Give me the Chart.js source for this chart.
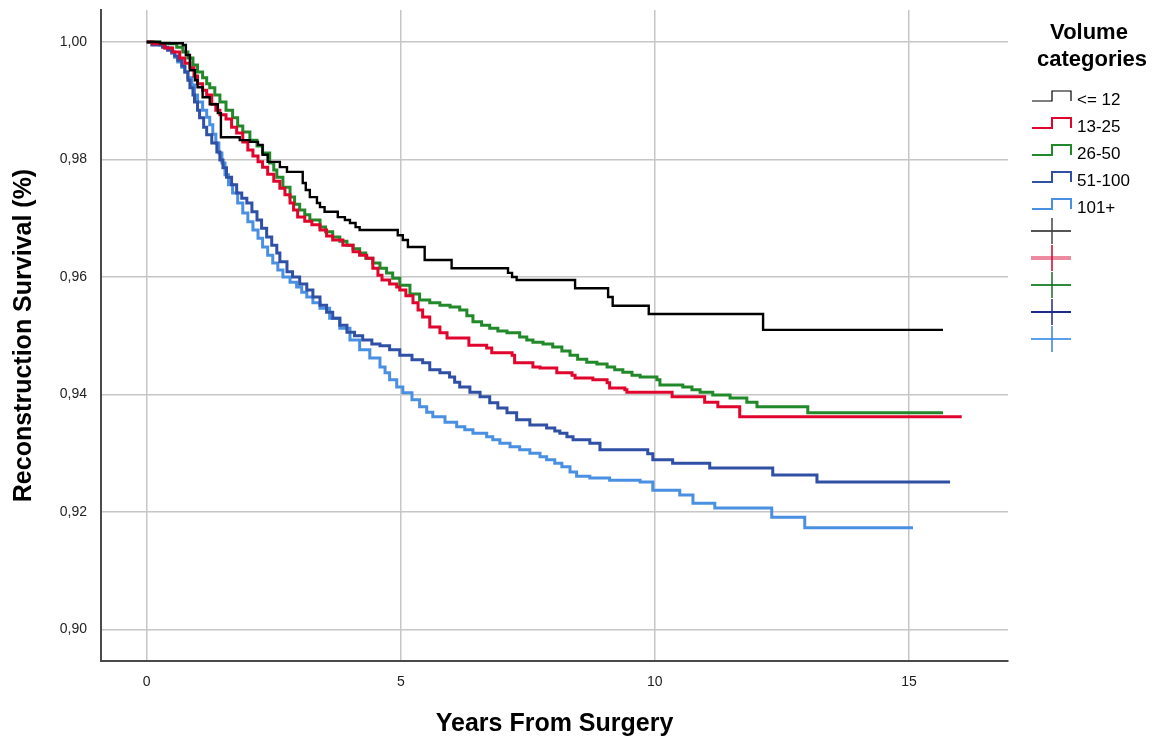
<!DOCTYPE html>
<html><head><meta charset="utf-8">
<script src="https://cdn.jsdelivr.net/npm/chart.js@4/dist/chart.umd.min.js"></script>
<style>html,body{margin:0;padding:0;background:#fff}#wrap{width:1156px;height:741px;position:relative}</style>
</head><body><div id="wrap"><canvas id="c" width="1156" height="741"></canvas></div>
<script>
const xTicks = [0, 5, 10, 15];
const yTicks = [0.90, 0.92, 0.94, 0.96, 0.98, 1.00];
const categories = ['<= 12', '13-25', '26-50', '51-100', '101+'];
const colors = ['#000000', '#e1052e', '#22892a', '#3050a6', '#4a90e2'];

const le12T = [0,0.26,0.71,0.77,0.85,0.95,1.00,1.10,1.24,1.40,1.46,1.83,2.03,2.19,2.28,2.38,2.62,2.76,3.07,3.13,3.21,3.35,3.41,3.50,3.76,3.90,4.00,4.11,4.19,4.94,5.04,5.14,5.47,6.00,7.11,7.19,7.28,8.43,9.08,9.17,9.88,12.13,15.67];
const le12S = [1.0000,0.9998,0.9995,0.9978,0.9952,0.9935,0.9923,0.9906,0.9894,0.9879,0.9838,0.9833,0.9830,0.9825,0.9808,0.9796,0.9787,0.9779,0.9760,0.9748,0.9736,0.9726,0.9719,0.9711,0.9702,0.9697,0.9692,0.9685,0.9680,0.9671,0.9663,0.9651,0.9629,0.9615,0.9607,0.9600,0.9595,0.9581,0.9566,0.9551,0.9537,0.9510,0.9510];

const v13T = [0,0.12,0.35,0.51,0.65,0.75,0.85,0.93,1.00,1.10,1.18,1.28,1.36,1.44,1.56,1.67,1.77,1.89,1.99,2.09,2.19,2.28,2.38,2.50,2.62,2.72,2.82,2.89,2.97,3.11,3.25,3.41,3.54,3.66,3.86,4.06,4.19,4.33,4.45,4.55,4.63,4.78,4.92,4.98,5.10,5.24,5.34,5.43,5.57,5.77,5.91,6.34,6.69,6.79,7.19,7.24,7.60,7.74,8.07,8.37,8.43,8.78,9.06,9.11,9.41,9.45,10.34,10.98,11.24,11.67,16.04];
const v13S = [1.0000,0.9997,0.9990,0.9983,0.9973,0.9964,0.9956,0.9942,0.9929,0.9918,0.9910,0.9894,0.9884,0.9876,0.9869,0.9855,0.9845,0.9830,0.9816,0.9806,0.9796,0.9787,0.9775,0.9763,0.9751,0.9740,0.9726,0.9714,0.9702,0.9695,0.9689,0.9680,0.9670,0.9663,0.9654,0.9643,0.9637,0.9632,0.9615,0.9603,0.9595,0.9588,0.9583,0.9578,0.9568,0.9556,0.9544,0.9532,0.9515,0.9505,0.9496,0.9484,0.9479,0.9471,0.9467,0.9454,0.9447,0.9445,0.9437,0.9433,0.9428,0.9425,0.9420,0.9411,0.9408,0.9404,0.9396,0.9387,0.9379,0.9362,0.9362];

const v26T = [0,0.26,0.45,0.59,0.71,0.81,0.91,1.00,1.10,1.18,1.24,1.34,1.44,1.56,1.69,1.79,1.89,2.03,2.17,2.28,2.42,2.50,2.56,2.68,2.82,2.91,3.01,3.11,3.21,3.41,3.52,3.66,3.80,3.94,4.06,4.19,4.31,4.45,4.59,4.72,4.84,4.98,5.18,5.37,5.57,5.77,5.97,6.16,6.30,6.42,6.59,6.75,6.91,7.09,7.34,7.48,7.60,7.80,7.99,8.17,8.33,8.48,8.66,8.86,9.06,9.21,9.37,9.55,9.71,10.04,10.10,10.55,10.73,10.89,11.14,11.48,11.81,12.01,13.01,15.67];
const v26S = [1.0000,0.9998,0.9997,0.9991,0.9983,0.9973,0.9961,0.9949,0.9939,0.9929,0.9922,0.9910,0.9898,0.9884,0.9871,0.9857,0.9847,0.9833,0.9823,0.9811,0.9794,0.9782,0.9770,0.9753,0.9736,0.9724,0.9714,0.9706,0.9697,0.9685,0.9677,0.9668,0.9661,0.9654,0.9648,0.9641,0.9632,0.9624,0.9615,0.9607,0.9598,0.9586,0.9571,0.9561,0.9556,0.9552,0.9549,0.9544,0.9534,0.9524,0.9518,0.9513,0.9508,0.9505,0.9498,0.9493,0.9489,0.9486,0.9481,0.9474,0.9467,0.9460,0.9455,0.9452,0.9447,0.9442,0.9438,0.9433,0.9430,0.9425,0.9416,0.9413,0.9408,0.9404,0.9399,0.9394,0.9387,0.9379,0.9369,0.9369];

const v51T = [0,0.10,0.31,0.41,0.49,0.55,0.61,0.69,0.75,0.81,0.85,0.91,0.94,1.00,1.04,1.12,1.18,1.28,1.38,1.44,1.50,1.57,1.67,1.77,1.87,1.97,2.07,2.17,2.26,2.36,2.46,2.56,2.62,2.76,2.87,3.01,3.15,3.27,3.41,3.54,3.66,3.80,3.94,4.09,4.25,4.43,4.59,4.78,4.98,5.22,5.43,5.57,5.77,5.96,6.06,6.16,6.36,6.56,6.75,6.91,7.09,7.28,7.54,7.87,8.03,8.13,8.27,8.39,8.72,8.92,9.86,9.96,10.35,11.08,12.32,13.19,15.81];
const v51S = [1.0000,0.9995,0.9991,0.9986,0.9983,0.9976,0.9969,0.9959,0.9949,0.9935,0.9922,0.9910,0.9898,0.9884,0.9871,0.9855,0.9842,0.9828,0.9813,0.9799,0.9786,0.9770,0.9757,0.9743,0.9734,0.9726,0.9711,0.9697,0.9683,0.9668,0.9654,0.9641,0.9626,0.9609,0.9600,0.9588,0.9578,0.9566,0.9552,0.9540,0.9530,0.9518,0.9506,0.9500,0.9493,0.9486,0.9483,0.9476,0.9467,0.9459,0.9454,0.9442,0.9437,0.9430,0.9421,0.9413,0.9404,0.9396,0.9386,0.9377,0.9369,0.9357,0.9348,0.9343,0.9338,0.9334,0.9328,0.9323,0.9317,0.9306,0.9299,0.9289,0.9283,0.9275,0.9263,0.9251,0.9251];

const v101T = [0,0.16,0.26,0.37,0.49,0.55,0.61,0.69,0.75,0.81,0.89,0.94,1.00,1.10,1.18,1.24,1.30,1.36,1.42,1.48,1.54,1.61,1.69,1.79,1.89,1.99,2.09,2.19,2.28,2.38,2.48,2.58,2.68,2.82,2.95,3.05,3.15,3.27,3.41,3.60,3.80,4.00,4.19,4.39,4.59,4.69,4.78,4.92,5.04,5.22,5.37,5.51,5.63,5.87,6.10,6.26,6.42,6.69,6.81,6.95,7.15,7.34,7.54,7.74,7.87,8.03,8.17,8.33,8.46,8.72,9.11,9.71,9.96,10.49,10.75,11.18,12.30,12.95,15.08];
const v101S = [1.0000,0.9997,0.9995,0.9990,0.9981,0.9974,0.9966,0.9957,0.9949,0.9939,0.9927,0.9910,0.9898,0.9884,0.9872,0.9859,0.9843,0.9828,0.9811,0.9794,0.9774,0.9757,0.9743,0.9726,0.9709,0.9694,0.9680,0.9666,0.9651,0.9637,0.9624,0.9612,0.9600,0.9591,0.9583,0.9574,0.9566,0.9556,0.9547,0.9530,0.9513,0.9493,0.9476,0.9462,0.9447,0.9437,0.9425,0.9413,0.9403,0.9391,0.9379,0.9370,0.9362,0.9353,0.9345,0.9340,0.9334,0.9328,0.9323,0.9317,0.9311,0.9306,0.9300,0.9294,0.9289,0.9283,0.9277,0.9268,0.9261,0.9258,0.9254,0.9251,0.9237,0.9229,0.9215,0.9207,0.9191,0.9173,0.9173];

const seriesT = [le12T, v13T, v26T, v51T, v101T];
const seriesS = [le12S, v13S, v26S, v51S, v101S];
const crossColors = [['#555555','#444444'], ['#ec8aa0','#d0002a'], ['#2e8b3a','#1b6b25'], ['#1e2a8a','#1e2a8a'], ['#5aa0ee','#3a80d8']];

const FONT = '"Liberation Sans", Arial, sans-serif';

const datasets = categories.map((name, i) => ({
  label: name,
  data: seriesT[i].map((t, k) => ({ x: t, y: seriesS[i][k] })),
  stepped: true,
  borderColor: colors[i],
  borderWidth: i === 0 ? 2.4 : 3,
  pointRadius: 0,
  fill: false,
  tension: 0
}));

const legendPlugin = {
  id: 'kmLegend',
  afterDraw(chart) {
    const ctx = chart.ctx;
    ctx.save();
    ctx.fillStyle = '#000';
    ctx.textBaseline = 'middle';
    ctx.textAlign = 'center';
    ctx.font = 'bold 22px ' + FONT;
    ctx.fillText('Volume', 1089, 33);
    ctx.fillText('categories', 1092, 60);
    ctx.textAlign = 'left';
    ctx.font = '17px ' + FONT;
    const rows = [99, 126, 153, 180, 207];
    categories.forEach((name, i) => {
      const y = rows[i];
      ctx.strokeStyle = colors[i];
      ctx.lineWidth = i === 0 ? 1.2 : 2;
      ctx.beginPath();
      ctx.moveTo(1032, y + 2);
      ctx.lineTo(1052, y + 2);
      ctx.lineTo(1052, y - 8);
      ctx.lineTo(1071, y - 8);
      ctx.lineTo(1071, y + 2);
      ctx.stroke();
      ctx.fillStyle = '#000';
      ctx.fillText(name, 1077, y + 1);
    });
    const crossRows = [231, 258, 285, 312, 339];
    crossRows.forEach((y, i) => {
      ctx.strokeStyle = crossColors[i][0];
      ctx.lineWidth = i === 1 ? 4 : 2;
      ctx.beginPath();
      ctx.moveTo(1031, y);
      ctx.lineTo(1071, y);
      ctx.stroke();
      ctx.strokeStyle = crossColors[i][1];
      ctx.lineWidth = 1.5;
      ctx.beginPath();
      ctx.moveTo(1052, y - 13);
      ctx.lineTo(1052, y + 13);
      ctx.stroke();
    });
    ctx.restore();
  }
};

new Chart(document.getElementById('c'), {
  type: 'line',
  data: { datasets },
  plugins: [legendPlugin],
  options: {
    responsive: false,
    animation: false,
    events: [],
    layout: { padding: { top: 10, right: 148, left: 0, bottom: 0 } },
    plugins: { legend: { display: false }, tooltip: { enabled: false }, title: { display: false } },
    scales: {
      x: {
        type: 'linear',
        min: -0.9,
        max: 16.95,
        afterBuildTicks: s => { s.ticks = xTicks.map(v => ({ value: v })); },
        afterFit: s => { s.height = 80; s.paddingLeft = 0; s.paddingRight = 0; },
        ticks: { font: { size: 14, family: FONT }, color: '#222', padding: 13, maxRotation: 0, callback: v => String(v) },
        grid: { color: '#c6c6c6', lineWidth: 1.5, drawTicks: false },
        border: { display: true, color: '#4a4a4a', width: 2 },
        title: { display: true, text: 'Years From Surgery', color: '#000', font: { size: 25, weight: 'bold', family: FONT }, padding: { top: 0, bottom: 2 } }
      },
      y: {
        type: 'linear',
        min: 0.89464,
        max: 1.00545,
        afterBuildTicks: s => { s.ticks = yTicks.map(v => ({ value: v })); },
        afterFit: s => { s.width = 101; s.paddingTop = 0; s.paddingBottom = 0; },
        ticks: { font: { size: 14, family: FONT }, color: '#222', padding: 14, callback: v => v.toFixed(2).replace('.', ',') },
        grid: { color: '#c6c6c6', lineWidth: 1.5, drawTicks: false },
        border: { display: true, color: '#4a4a4a', width: 2 },
        title: { display: true, text: 'Reconstruction Survival (%)', color: '#000', font: { size: 25, weight: 'bold', family: FONT }, padding: { top: 9, bottom: 0 } }
      }
    }
  }
});
</script>
</body></html>
